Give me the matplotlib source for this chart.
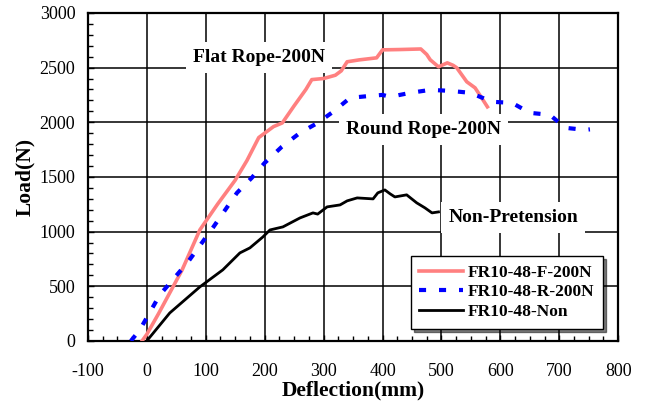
import matplotlib
matplotlib.use("Agg")
import matplotlib.pyplot as plt
from matplotlib.ticker import MultipleLocator

plt.rcParams["font.family"] = "Liberation Serif"
plt.rcParams["axes.unicode_minus"] = False

# values
flat_x = [-8, 0, 20, 40, 60, 90, 120, 150, 170, 190, 200, 215, 230, 250, 270, 280,
          300, 320, 330, 340, 360, 390, 400, 430, 465, 475, 481, 495, 510, 520, 526,
          543, 557, 565, 578]
flat_y = [0, 60, 250, 450, 650, 1015, 1250, 1470, 1650, 1860, 1900, 1960, 1994, 2150,
          2300, 2390, 2400, 2430, 2470, 2553, 2570, 2589, 2662, 2665, 2670, 2620, 2571,
          2507, 2543, 2520, 2498, 2370, 2315, 2250, 2141]

round_x = [-27, -12, 22, 70, 112, 153, 178, 200, 229, 260, 290, 316, 345, 379, 400,
           413, 447, 481, 515, 549, 586, 620, 650, 684, 710, 744, 752]
round_y = [0, 100, 420, 723, 1034, 1354, 1491, 1628, 1775, 1903, 1994, 2095, 2223,
           2241, 2250, 2232, 2269, 2296, 2287, 2269, 2187, 2177, 2086, 2068, 1949, 1930,
           1935]

non_x = [0, 39, 90, 129, 158, 175, 197, 209, 231, 260, 282, 290, 306, 328, 340, 357,
         384, 392, 404, 413, 421, 441, 458, 472, 484, 495]
non_y = [0, 256, 494, 650, 805, 851, 951, 1015, 1043, 1125, 1171, 1160, 1226, 1244,
         1281, 1308, 1299, 1354, 1381, 1345, 1317, 1336, 1263, 1217, 1171, 1180]

series_labels = ["FR10-48-F-200N", "FR10-48-R-200N", "FR10-48-Non"]

fig = plt.figure(figsize=(6.46, 4.03), dpi=100)
ax = fig.add_axes([0.136, 0.154, 0.821, 0.814])

ax.plot(flat_x, flat_y, color="#ff8080", lw=2.6, label=series_labels[0], zorder=3)
ax.plot(round_x, round_y, color="#0000ff", lw=3, dashes=(1.7, 3.1),
        label=series_labels[1], zorder=3)
ax.plot(non_x, non_y, color="black", lw=2, label=series_labels[2], zorder=3)

ax.set_xlim(-100, 800)
ax.set_ylim(0, 3000)
ax.xaxis.set_major_locator(MultipleLocator(100))
ax.xaxis.set_minor_locator(MultipleLocator(25))
ax.yaxis.set_major_locator(MultipleLocator(500))
ax.yaxis.set_minor_locator(MultipleLocator(100))
ax.tick_params(which="both", direction="in", color="black", labelsize=13)
ax.tick_params(which="major", length=4, width=1)
ax.tick_params(which="minor", length=3.5, width=1)
ax.tick_params(axis="x", which="major", pad=16)
ax.tick_params(axis="y", which="major", pad=9)
ax.set_axisbelow(True)
ax.grid(True, which="major", color="black", lw=1.1)
for s in ax.spines.values():
    s.set_linewidth(1.6)

ax.set_xlabel("Deflection(mm)", fontsize=15.5, fontweight="bold", labelpad=0)
ax.set_ylabel("Load(N)", fontsize=15.5, fontweight="bold", labelpad=3)

box = dict(facecolor="white", edgecolor="none", pad=5)
ax.text(190, 2589, "Flat Rope-200N", fontsize=14, fontweight="bold",
        ha="center", va="center", bbox=box, zorder=2)
ax.text(470, 1930, "Round Rope-200N", fontsize=14, fontweight="bold",
        ha="center", va="center", bbox=box, zorder=2)
ax.text(622, 1125, "Non-Pretension", fontsize=14, fontweight="bold",
        ha="center", va="center", bbox=box, zorder=2)

leg = ax.legend(loc="lower right", bbox_to_anchor=(0.972, 0.037), borderaxespad=0,
                prop={"weight": "bold", "size": 12.5}, fancybox=False,
                edgecolor="black", framealpha=1, handlelength=2.5,
                handletextpad=0.3, borderpad=0.5,
                labelspacing=0.2, shadow={"color": "black"})
leg.get_frame().set_linewidth(1)
leg.set_zorder(5)

fig.savefig("out.png", dpi=100)
